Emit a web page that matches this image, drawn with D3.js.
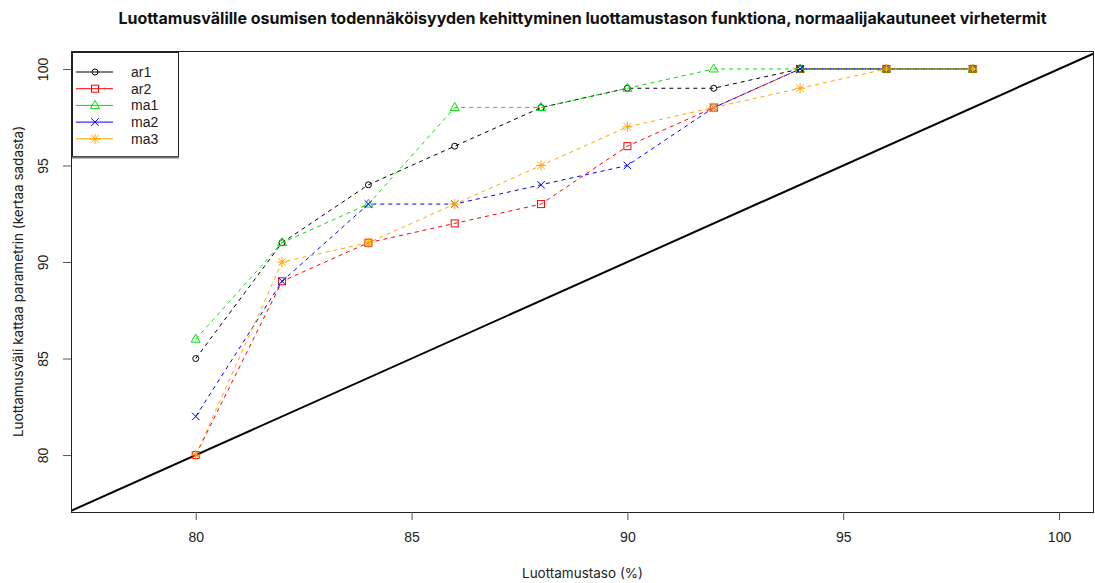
<!DOCTYPE html>
<html>
<head>
<meta charset="utf-8">
<script src="https://cdn.jsdelivr.net/npm/d3@7"></script>
<style>
  body { margin: 0; background: #fff; }
  svg { display: block; }
</style>
</head>
<body>
<div id="chart"></div>
<script>
// Data
const levels = [80, 82, 84, 86, 88, 90, 92, 94, 96, 98];
const ar1 = [85, 91, 94, 96, 98, 99, 99, 100, 100, 100];
const ar2 = [80, 89, 91, 92, 93, 96, 98, 100, 100, 100];
const ma1 = [86, 91, 93, 98, 98, 99, 100, 100, 100, 100];
const ma2 = [82, 89, 93, 93, 94, 95, 98, 100, 100, 100];
const ma3 = [80, 90, 91, 93, 95, 97, 98, 99, 100, 100];
const xTicks = [80, 85, 90, 95, 100];
const yTicks = [80, 85, 90, 95, 100];

const seriesList = [
  { name: "ar1", values: ar1, color: "#000000", shape: "circle" },
  { name: "ar2", values: ar2, color: "#ff0000", shape: "square" },
  { name: "ma1", values: ma1, color: "#00e000", shape: "triangle" },
  { name: "ma2", values: ma2, color: "#0000ff", shape: "cross" },
  { name: "ma3", values: ma3, color: "#ffa500", shape: "star" }
];

const width = 1095, height = 583;
const margin = { top: 51, right: 1, bottom: 71, left: 71 };
const innerW = width - margin.left - margin.right;
const innerH = height - margin.top - margin.bottom;

const xScale = d3.scaleLinear().domain([77.11, 100.81]).range([0, innerW]);
const yScale = d3.scaleLinear().domain([77.05, 100.93]).range([innerH, 0]);

const svg = d3.select("#chart").append("svg")
  .attr("width", width).attr("height", height);

const g = svg.append("g")
  .attr("transform", `translate(${margin.left},${margin.top})`);

g.append("clipPath").attr("id", "clip")
  .append("rect").attr("width", innerW).attr("height", innerH);

// symbol drawer, R pch style
function drawSymbol(sel, shape, color) {
  if (shape === "circle") {
    sel.append("circle").attr("r", 3).attr("fill", "none").attr("stroke", color);
  } else if (shape === "square") {
    sel.append("rect").attr("x", -3.5).attr("y", -3.5).attr("width", 7).attr("height", 7)
      .attr("fill", "none").attr("stroke", color);
  } else if (shape === "triangle") {
    sel.append("path").attr("d", "M0,-5L4.5,3L-4.5,3Z").attr("fill", "none").attr("stroke", color);
  } else if (shape === "cross") {
    sel.append("path").attr("d", "M-3.8,-3.8L3.8,3.8M-3.8,3.8L3.8,-3.8").attr("stroke", color);
  } else if (shape === "star") {
    sel.append("path")
      .attr("d", "M-3.8,-3.8L3.8,3.8M-3.8,3.8L3.8,-3.8M-5,0L5,0M0,-5L0,5")
      .attr("stroke", color);
  }
}

const plot = g.append("g").attr("clip-path", "url(#clip)");

// y = x reference line
const diag = [77, 101];
plot.append("line")
  .attr("x1", xScale(diag[0])).attr("y1", yScale(diag[0]))
  .attr("x2", xScale(diag[1])).attr("y2", yScale(diag[1]))
  .attr("stroke", "#000").attr("stroke-width", 2);

const line = d3.line()
  .x((d, i) => xScale(levels[i]))
  .y(d => yScale(d));

seriesList.forEach(s => {
  plot.append("path")
    .datum(s.values)
    .attr("d", line)
    .attr("fill", "none")
    .attr("stroke", s.color)
    .attr("stroke-width", 1)
    .attr("stroke-dasharray", "4,4");

  s.values.forEach((v, i) => {
    const p = plot.append("g")
      .attr("transform", `translate(${xScale(levels[i])},${yScale(v)})`);
    drawSymbol(p, s.shape, s.color);
  });
});

// Frame
g.append("rect")
  .attr("x", 0.5).attr("y", 0.5)
  .attr("width", innerW - 1).attr("height", innerH)
  .attr("fill", "none").attr("stroke", "#222").attr("stroke-width", 1);

// Axes
const xAxis = g.append("g")
  .attr("transform", `translate(0,${innerH})`)
  .call(d3.axisBottom(xScale).tickValues(xTicks).tickSize(8).tickPadding(12));
const yAxis = g.append("g")
  .call(d3.axisLeft(yScale).tickValues(yTicks).tickSize(8).tickPadding(0));

[xAxis, yAxis].forEach(a => {
  a.select(".domain").remove();
  a.selectAll("line").attr("stroke", "#555");
  a.selectAll("text").attr("fill", "#222")
    .style("font-family", "'Liberation Sans', Arial, sans-serif")
    .style("font-size", "14px");
});

// rotated y tick labels
yAxis.selectAll("text")
  .attr("x", 0).attr("dy", 0)
  .attr("text-anchor", "middle")
  .attr("transform", d => `translate(-23,0) rotate(-90)`);

// Title and axis labels
svg.append("text")
  .attr("x", margin.left + innerW / 2).attr("y", 24)
  .attr("text-anchor", "middle")
  .style("font-family", "Inter, sans-serif")
  .style("font-weight", "bold")
  .style("font-size", "16px")
  .attr("fill", "#111")
  .text("Luottamusvälille osumisen todennäköisyyden kehittyminen luottamustason funktiona, normaalijakautuneet virhetermit");

svg.append("text")
  .attr("x", margin.left + innerW / 2).attr("y", 578)
  .attr("text-anchor", "middle")
  .style("font-family", "Inter, sans-serif")
  .style("font-size", "13.5px")
  .attr("fill", "#222")
  .text("Luottamustaso (%)");

svg.append("text")
  .attr("transform", `translate(23,${margin.top + innerH / 2}) rotate(-90)`)
  .attr("text-anchor", "middle")
  .style("font-family", "Inter, sans-serif")
  .style("font-size", "13.5px")
  .attr("fill", "#222")
  .text("Luottamusväli kattaa parametrin (kertaa sadasta)");

// Legend
const legend = svg.append("g").attr("transform", "translate(72,52)");
legend.append("rect")
  .attr("x", 0.5).attr("y", 0.5)
  .attr("width", 106).attr("height", 104)
  .attr("fill", "#fff").attr("stroke", "#222").attr("stroke-width", 1);
legend.append("line")
  .attr("x1", 0).attr("x2", 107).attr("y1", 105.5).attr("y2", 105.5)
  .attr("stroke", "#777").attr("stroke-width", 2);

seriesList.forEach((s, i) => {
  const row = legend.append("g").attr("transform", `translate(0,${20 + i * 16.7})`);
  row.append("line").attr("x1", 4).attr("x2", 41)
    .attr("stroke", s.color).attr("stroke-width", 1);
  const sym = row.append("g").attr("transform", "translate(23,0)");
  drawSymbol(sym, s.shape, s.color);
  row.append("text")
    .attr("x", 59).attr("y", 5)
    .style("font-family", "'Liberation Sans', Arial, sans-serif")
    .style("font-size", "14px")
    .attr("fill", "#222")
    .text(s.name);
});
</script>
</body>
</html>
